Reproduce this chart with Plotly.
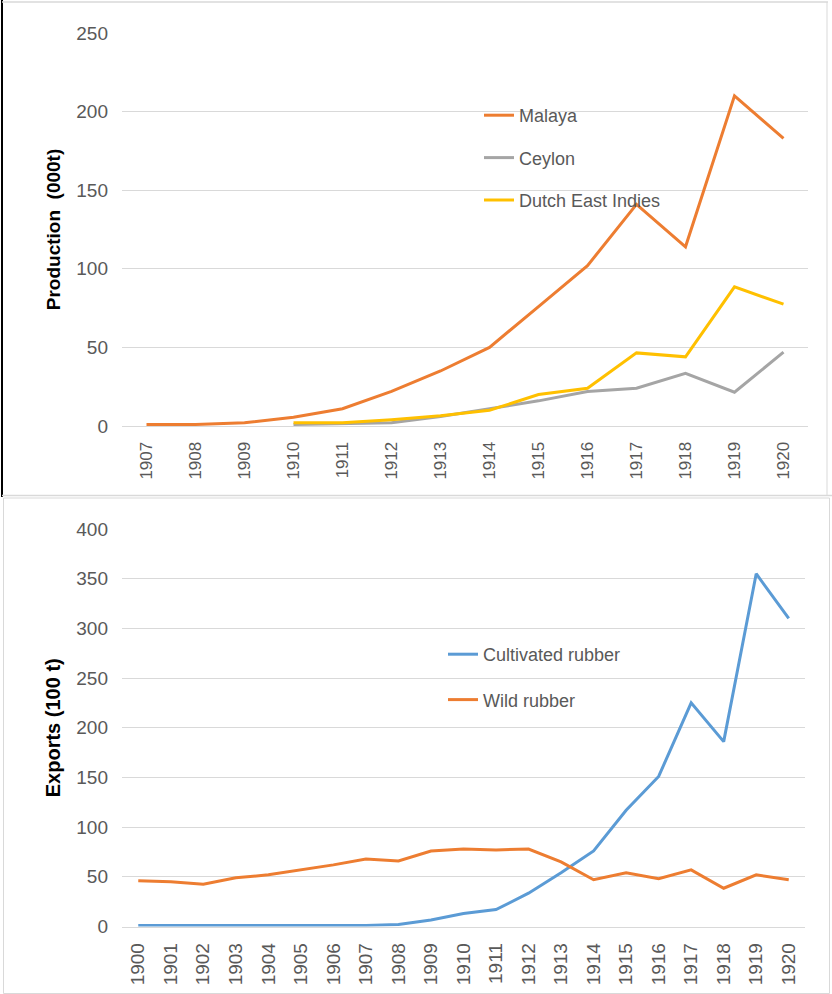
import plotly.graph_objects as go

# Rubber production by region (thousand tonnes)
prod_years = [str(y) for y in range(1907, 1921)]
malaya = [1, 1, 2, 5.5, 11, 22, 35, 50, 76, 102, 141, 114, 210, 183]
ceylon = [None, None, None, 1, 1.5, 2, 6, 11, 16, 22, 24, 33.5, 21.5, 47]
dutch_east_indies = [None, None, None, 2, 2, 4, 6.5, 10, 20, 24, 46.5, 44, 88.5, 77.5]

# Exports of cultivated vs wild rubber (hundreds of tonnes)
exp_years = [str(y) for y in range(1900, 1921)]
cultivated = [1, 1, 1, 1, 1, 1, 1, 1, 2, 6.5, 13, 17, 33.5, 54, 76, 117, 151, 225, 186, 355, 310]
wild = [46, 45, 42.5, 49, 52, 57, 62, 68, 66, 76, 78, 77, 78, 65, 47, 54, 48, 57, 38.5, 52, 47]

W, H = 832, 994
GRID = "#D9D9D9"
TXT = "#595959"
FONT = "Liberation Sans"


def px_x(v):
    return v / W


def px_y(v):
    return 1 - v / H


fig = go.Figure()

line_w = 3
fig.add_trace(go.Scatter(x=prod_years, y=malaya, name="Malaya", mode="lines",
                         line=dict(color="#ED7D31", width=line_w),
                         xaxis="x", yaxis="y", legend="legend", legendgroup="m"))
fig.add_trace(go.Scatter(x=prod_years, y=ceylon, name="Ceylon", mode="lines",
                         line=dict(color="#A5A5A5", width=line_w),
                         xaxis="x", yaxis="y", legend="legend", legendgroup="c"))
fig.add_trace(go.Scatter(x=prod_years, y=dutch_east_indies, name="Dutch East Indies", mode="lines",
                         line=dict(color="#FFC000", width=line_w),
                         xaxis="x", yaxis="y", legend="legend", legendgroup="d"))

fig.add_trace(go.Scatter(x=exp_years, y=cultivated, name="Cultivated rubber", mode="lines",
                         line=dict(color="#5B9BD5", width=line_w),
                         xaxis="x2", yaxis="y2", legend="legend2", legendgroup="cr"))
fig.add_trace(go.Scatter(x=exp_years, y=wild, name="Wild rubber", mode="lines",
                         line=dict(color="#ED7D31", width=line_w),
                         xaxis="x2", yaxis="y2", legend="legend2", legendgroup="wr"))

xdom_top = [px_x(122), px_x(808)]
xdom_bot = [px_x(122), px_x(805)]
ydom_top = [px_y(426), px_y(33)]
ydom_bot = [px_y(926.5), px_y(529)]

xaxis_common = dict(type="category", tickangle=-90, showgrid=False, showline=True,
                    linecolor=GRID, linewidth=1, ticks="", automargin=False,
                    ticklabelstandoff=8, fixedrange=True)
yaxis_common = dict(showgrid=True, gridcolor=GRID, gridwidth=1, zeroline=False,
                    showline=False, ticks="", automargin=False,
                    tickfont=dict(family=FONT, size=19, color=TXT),
                    ticklabelstandoff=13, fixedrange=True)

fig.update_layout(
    width=W, height=H,
    margin=dict(l=0, r=0, t=0, b=0, autoexpand=False),
    paper_bgcolor="white", plot_bgcolor="white",
    font=dict(family=FONT, color=TXT),
    xaxis=dict(xaxis_common, domain=xdom_top, anchor="y",
               tickfont=dict(family=FONT, size=17, color=TXT),
               range=[-0.5, len(prod_years) - 0.5]),
    yaxis=dict(yaxis_common, domain=ydom_top, anchor="x", range=[0, 250],
               dtick=50,
               title=dict(text="<b>Production  (000t)</b>",
                          font=dict(family=FONT, size=19, color="black"),
                          standoff=10)),
    xaxis2=dict(xaxis_common, domain=xdom_bot, anchor="y2",
                tickfont=dict(family=FONT, size=19, color=TXT),
                range=[-0.5, len(exp_years) - 0.5]),
    yaxis2=dict(yaxis_common, domain=ydom_bot, anchor="x2", range=[0, 400],
                dtick=50,
                title=dict(text="<b>Exports (100 t)</b>",
                           font=dict(family=FONT, size=20, color="black"),
                           standoff=10)),
    legend=dict(x=px_x(479), y=px_y(97), xanchor="left", yanchor="top",
                bgcolor="rgba(0,0,0,0)", traceorder="grouped", tracegroupgap=16,
                font=dict(family=FONT, size=18, color=TXT), itemwidth=30),
    legend2=dict(x=px_x(443), y=px_y(636), xanchor="left", yanchor="top",
                 bgcolor="rgba(0,0,0,0)", traceorder="grouped", tracegroupgap=19,
                 font=dict(family=FONT, size=18, color=TXT), itemwidth=30),
    showlegend=True,
)

# Frames around the two panels
shapes = [
    # top panel
    dict(type="line", x0=px_x(2), x1=px_x(2), y0=px_y(0), y1=px_y(497),
         line=dict(color="black", width=2)),
    dict(type="line", x0=px_x(2), x1=px_x(828), y0=px_y(2), y1=px_y(2),
         line=dict(color=GRID, width=1.5)),
    dict(type="line", x0=px_x(827), x1=px_x(827), y0=px_y(2), y1=px_y(495),
         line=dict(color=GRID, width=1)),
    dict(type="line", x0=px_x(2), x1=px_x(832), y0=px_y(495.5), y1=px_y(495.5),
         line=dict(color=GRID, width=1.5)),
    # bottom panel
    dict(type="rect", x0=px_x(3.5), x1=px_x(829.5), y0=px_y(993.5), y1=px_y(498),
         line=dict(color=GRID, width=1)),
]
for s in shapes:
    s.update(xref="paper", yref="paper", layer="below")
fig.update_layout(shapes=shapes)

fig.write_html("out.html")
